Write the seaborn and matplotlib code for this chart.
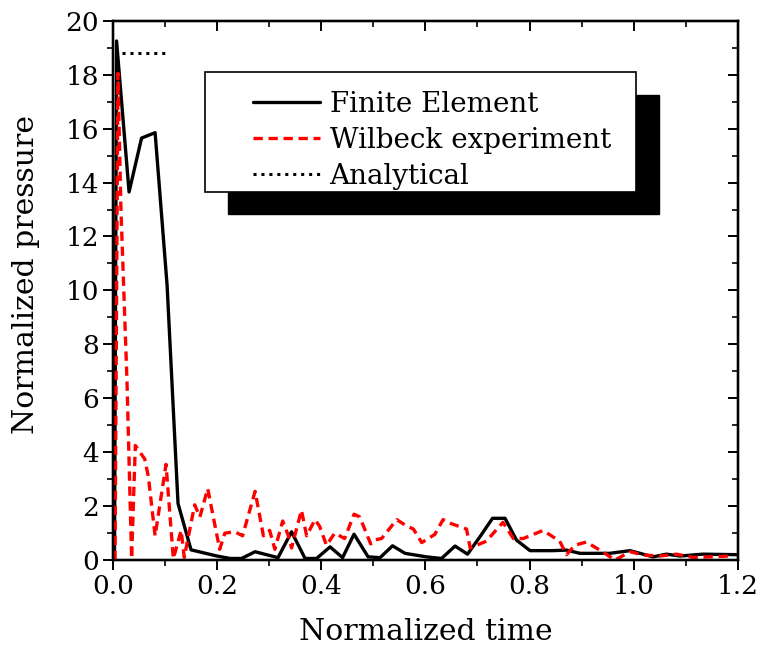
import numpy as np
import pandas as pd
import matplotlib
matplotlib.use("Agg")
import matplotlib.pyplot as plt
from matplotlib.patches import Rectangle
from matplotlib.lines import Line2D
import seaborn as sns

# ---------------- data ----------------
fe_time = [0.003, 0.007, 0.031, 0.055, 0.081, 0.104, 0.125, 0.150, 0.200, 0.225,
           0.247, 0.273, 0.317, 0.343, 0.369, 0.391, 0.417, 0.441, 0.463, 0.490,
           0.513, 0.537, 0.561, 0.602, 0.631, 0.657, 0.681, 0.705, 0.729, 0.753,
           0.775, 0.801, 0.845, 0.871, 0.897, 0.954, 0.993, 1.037, 1.063, 1.089,
           1.133, 1.200]
fe_press = [0.0, 19.25, 13.65, 15.65, 15.85, 10.2, 2.1, 0.38, 0.15, 0.06,
            0.06, 0.31, 0.09, 1.05, 0.06, 0.06, 0.49, 0.09, 0.96, 0.12,
            0.09, 0.53, 0.25, 0.12, 0.06, 0.52, 0.22, 0.87, 1.55, 1.55,
            0.74, 0.35, 0.35, 0.37, 0.25, 0.25, 0.35, 0.12, 0.22, 0.15,
            0.22, 0.20]

exp_time = [0.004, 0.0096, 0.0154, 0.0269, 0.0359, 0.043, 0.061, 0.068, 0.081, 0.102,
            0.116, 0.131, 0.137, 0.157, 0.167, 0.182, 0.205, 0.215, 0.234, 0.249,
            0.273, 0.289, 0.301, 0.311, 0.326, 0.337, 0.343, 0.362, 0.372, 0.388,
            0.397, 0.410, 0.426, 0.445, 0.463, 0.474, 0.495, 0.503, 0.516, 0.545,
            0.561, 0.577, 0.593, 0.618, 0.634, 0.650, 0.679, 0.686, 0.717, 0.749,
            0.769, 0.788, 0.826, 0.858, 0.871, 0.887, 0.909, 0.941, 0.964, 0.993,
            1.018, 1.050, 1.082, 1.114, 1.146, 1.185]
exp_press = [0.0, 18.05, 13.0, 6.7, 0.05, 4.25, 3.75, 3.1, 0.9, 3.55,
             0.05, 1.1, 0.1, 2.05, 1.6, 2.65, 0.4, 1.0, 1.05, 0.9,
             2.55, 0.9, 1.1, 0.4, 1.45, 0.9, 0.45, 1.85, 0.9, 1.5,
             1.25, 0.55, 1.0, 0.8, 1.7, 1.6, 0.6, 0.75, 0.8, 1.5,
             1.3, 1.15, 0.65, 0.95, 1.5, 1.35, 1.15, 0.45, 0.7, 1.4,
             0.8, 0.8, 1.1, 0.7, 0.2, 0.55, 0.67, 0.3, 0.0, 0.31,
             0.19, 0.15, 0.22, 0.1, 0.12, 0.15]

ana_time = [0.017, 0.100]
ana_press = [18.8, 18.8]

labels = ["Finite Element", "Wilbeck experiment", "Analytical"]
x_ticks = [0.0, 0.2, 0.4, 0.6, 0.8, 1.0, 1.2]
y_ticks = [0, 2, 4, 6, 8, 10, 12, 14, 16, 18, 20]

# ---------------- style ----------------
sns.set_theme(style="ticks")
plt.rcParams["font.family"] = ["DejaVu Serif"]
plt.rcParams["axes.linewidth"] = 1.6
plt.rcParams["text.color"] = "black"
plt.rcParams["axes.labelcolor"] = "black"
plt.rcParams["xtick.color"] = "black"
plt.rcParams["ytick.color"] = "black"

fig = plt.figure(figsize=(7.63, 6.49), dpi=100)
ax = fig.add_axes([0.148, 0.137, 0.819, 0.831])

fe_df = pd.DataFrame({"t": fe_time, "p": fe_press})
exp_df = pd.DataFrame({"t": exp_time, "p": exp_press})
ana_df = pd.DataFrame({"t": ana_time, "p": ana_press})

sns.lineplot(data=exp_df, x="t", y="p", ax=ax, color="#ff0000", lw=2.4,
             estimator=None, sort=False, zorder=3)
ax.lines[-1].set_dashes((2.8, 1.7))
sns.lineplot(data=fe_df, x="t", y="p", ax=ax, color="black", lw=2.4,
             estimator=None, sort=False, zorder=2)
sns.lineplot(data=ana_df, x="t", y="p", ax=ax, color="black", lw=2.2,
             estimator=None, sort=False, zorder=2)
ax.lines[-1].set_dashes((1.0, 1.6))

ax.set_xlim(0, 1.2)
ax.set_ylim(0, 20)
ax.set_xticks(x_ticks)
ax.set_xticklabels([f"{v:.1f}" for v in x_ticks])
ax.set_yticks(y_ticks)
ax.set_xticks(np.arange(0.1, 1.2, 0.2), minor=True)
ax.set_yticks(np.arange(1, 20, 2), minor=True)
ax.set_xlabel("Normalized time", fontsize=21.5)
ax.set_ylabel("Normalized pressure", fontsize=21.5)
ax.xaxis.set_label_coords(0.5, -0.108)
ax.yaxis.set_label_coords(-0.117, 0.53)
ax.tick_params(which="major", direction="out", length=7, width=1.4,
               labelsize=19, colors="black", pad=3)
ax.tick_params(which="minor", direction="out", length=4, width=1.2)
for s in ax.spines.values():
    s.set_visible(True)
    s.set_linewidth(1.6)
    s.set_color("black")

# inward ticks on top and right
axr = ax.twinx()
axr.set_ylim(0, 20)
axr.set_yticks(y_ticks)
axr.set_yticks(np.arange(1, 20, 2), minor=True)
axr.tick_params(which="major", direction="in", length=7, width=1.4, labelright=False)
axr.tick_params(which="minor", direction="in", length=4, width=1.2)
axt = ax.twiny()
axt.set_xlim(0, 1.2)
axt.set_xticks(x_ticks)
axt.set_xticks(np.arange(0.1, 1.2, 0.2), minor=True)
axt.tick_params(which="major", direction="in", length=7, width=1.4, labeltop=False)
axt.tick_params(which="minor", direction="in", length=4, width=1.2)
for a in (axr, axt):
    a.grid(False)
    for s in a.spines.values():
        s.set_linewidth(1.6)
        s.set_color("black")

# legend with solid black shadow
shadow = Rectangle((0.184, 0.642), 0.690, 0.221, transform=ax.transAxes,
                   facecolor="black", edgecolor="black", zorder=6)
frame = Rectangle((0.147, 0.683), 0.690, 0.222, transform=ax.transAxes,
                  facecolor="white", edgecolor="black", lw=1.2, zorder=7)
ax.add_patch(shadow)
ax.add_patch(frame)
h1 = Line2D([], [], color="black", lw=2.4)
h2 = Line2D([], [], color="#ff0000", lw=2.4, dashes=(2.8, 1.7))
h3 = Line2D([], [], color="black", lw=2.2, dashes=(1.0, 1.6))
leg = ax.legend([h1, h2, h3], labels, loc="center left",
                bbox_to_anchor=(0.224, 0.778), frameon=False, fontsize=20,
                handlelength=2.4, handletextpad=0.36, labelspacing=0.33,
                borderpad=0, borderaxespad=0)
leg.set_zorder(8)
for t in leg.get_texts():
    t.set_color("black")

fig.savefig("out.png", dpi=100)
